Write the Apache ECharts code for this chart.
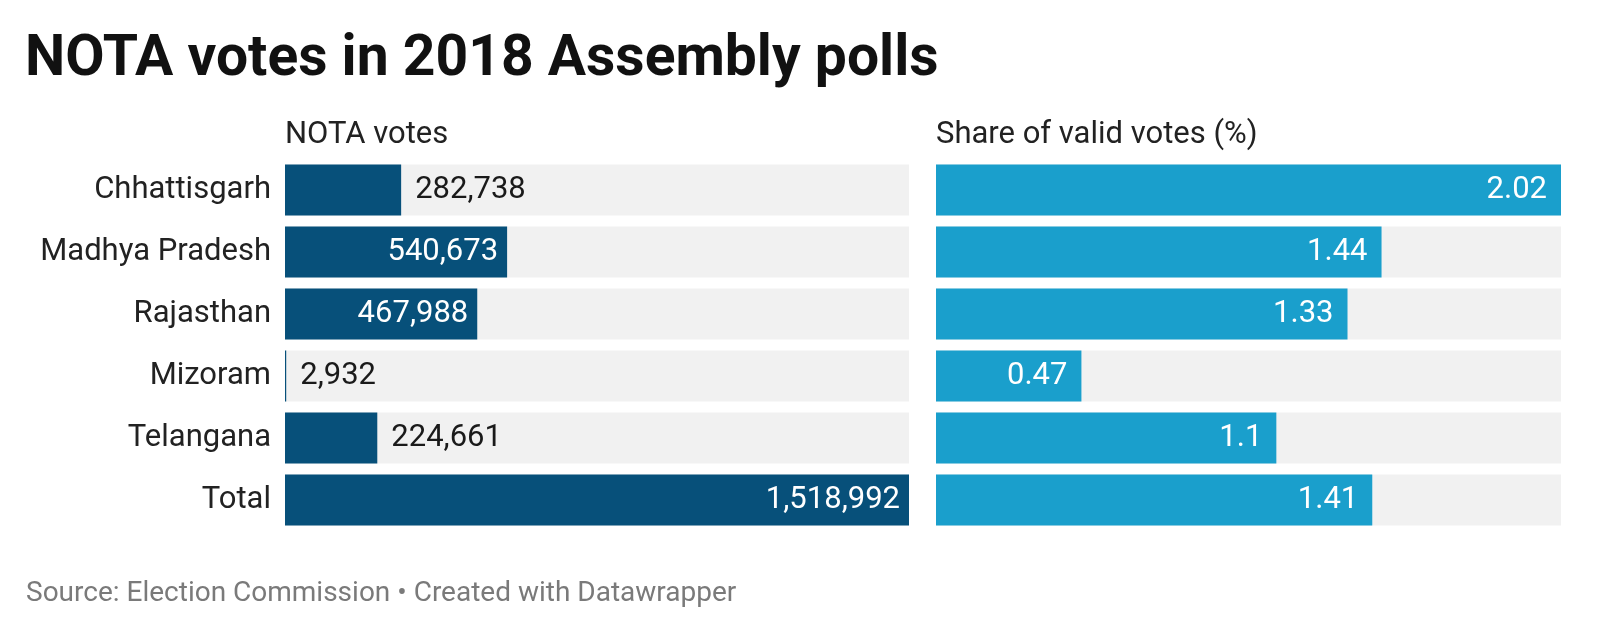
<html>
<head>
<meta charset="utf-8">
<title>NOTA votes in 2018 Assembly polls</title>
<script src="https://cdn.jsdelivr.net/npm/echarts@6/dist/echarts.min.js"></script>
<style>
  html, body { margin: 0; padding: 0; background: #fff; }
  #chart { width: 1600px; height: 637px; }
</style>
</head>
<body>
<div id="chart"></div>
<script type="text/javascript">
    var states = ['Chhattisgarh', 'Madhya Pradesh', 'Rajasthan', 'Mizoram', 'Telangana', 'Total'];
    var notaVotes = [282738, 540673, 467988, 2932, 224661, 1518992];
    var shareValid = [2.02, 1.44, 1.33, 0.47, 1.1, 1.41];

    var darkBlue = '#07507a';
    var lightBlue = '#1a9fcc';
    var track = '#f1f1f1';
    var font = 'Roboto';

    function fmtInt(v) {
        return v.toString().replace(/\B(?=(\d{3})+(?!\d))/g, ',');
    }

    // value label sits inside the bar when there is room, else just after it
    function barData(values, max, minFrac, inDist, fmt) {
        return values.map(function (v) {
            var inside = v / max >= minFrac;
            return {
                value: v,
                label: {
                    position: inside ? 'insideRight' : 'right',
                    color: inside ? '#fff' : '#1a1a1a',
                    distance: inside ? inDist : 14,
                    formatter: fmt(v)
                }
            };
        });
    }

    var maxVotes = Math.max.apply(null, notaVotes);
    var maxShare = Math.max.apply(null, shareValid);

    var chart = echarts.init(document.getElementById('chart'));
    chart.setOption({
        animation: false,
        backgroundColor: '#fff',
        textStyle: { fontFamily: font },
        title: [
            {
                text: 'NOTA votes in 2018 Assembly polls',
                left: 20, top: 27,
                textStyle: { fontFamily: font, fontWeight: 'bold', fontSize: 57, color: '#111' }
            },
            {
                text: 'NOTA votes',
                left: 280, top: 115,
                textStyle: { fontFamily: font, fontWeight: 'normal', fontSize: 31, color: '#222' }
            },
            {
                text: 'Share of valid votes (%)',
                left: 931, top: 115,
                textStyle: { fontFamily: font, fontWeight: 'normal', fontSize: 31, color: '#222' }
            },
            {
                text: 'Source: Election Commission \u2022 Created with Datawrapper',
                left: 21, top: 575,
                textStyle: { fontFamily: font, fontWeight: 'normal', fontSize: 28, color: '#7a7a7a' }
            }
        ],
        grid: [
            { left: 285, width: 624, top: 159, height: 372 },
            { left: 936, width: 625, top: 159, height: 372 }
        ],
        xAxis: [
            { gridIndex: 0, type: 'value', min: 0, max: maxVotes, show: false },
            { gridIndex: 1, type: 'value', min: 0, max: maxShare, show: false }
        ],
        yAxis: [
            {
                gridIndex: 0, type: 'category', data: states, inverse: true,
                axisLine: { show: false }, axisTick: { show: false },
                axisLabel: { fontFamily: font, fontSize: 31, color: '#222', margin: 14 }
            },
            {
                gridIndex: 1, type: 'category', data: states, inverse: true,
                axisLine: { show: false }, axisTick: { show: false },
                axisLabel: { show: false }
            }
        ],
        series: [
            {
                type: 'bar', xAxisIndex: 0, yAxisIndex: 0,
                barWidth: 51,
                showBackground: true,
                backgroundStyle: { color: track },
                itemStyle: { color: darkBlue },
                label: { show: true, fontFamily: font, fontSize: 31 },
                data: barData(notaVotes, maxVotes, 0.25, 9, fmtInt)
            },
            {
                type: 'bar', xAxisIndex: 1, yAxisIndex: 1,
                barWidth: 51,
                showBackground: true,
                backgroundStyle: { color: track },
                itemStyle: { color: lightBlue },
                label: { show: true, fontFamily: font, fontSize: 31 },
                data: barData(shareValid, maxShare, 0.2, 14, function (v) { return String(v); })
            }
        ]
    });
</script>
</body>
</html>
